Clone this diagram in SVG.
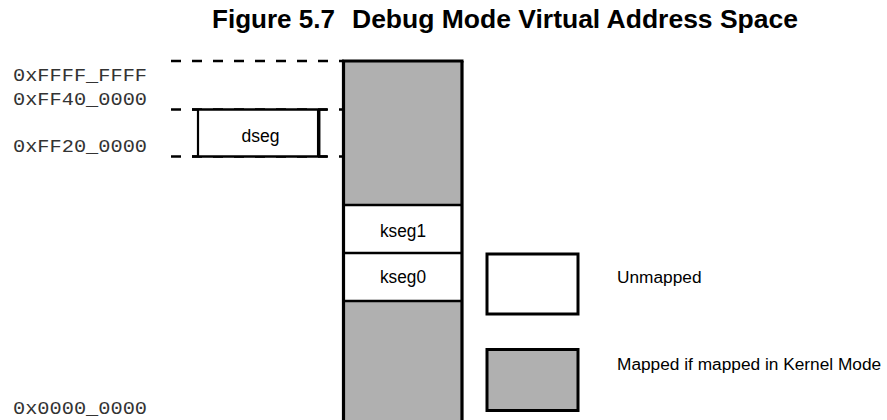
<svg xmlns="http://www.w3.org/2000/svg" width="887" height="420" viewBox="0 0 887 420">
<style>
.title{font-family:"Liberation Sans",Arial,sans-serif;font-weight:bold;font-size:25.5px;fill:#000}
.addr{font-family:"Liberation Mono","Courier New",monospace;font-size:19px;fill:#333}
.seg{font-family:"Liberation Sans",Arial,sans-serif;font-size:18px;fill:#000;text-anchor:middle}
.leg{font-family:"Liberation Sans",Arial,sans-serif;font-size:17.3px;fill:#000}
.dash{stroke:#000;stroke-width:2.5;stroke-dasharray:10 11;fill:none}
.box{stroke:#000;stroke-width:3}
.gray{fill:#b0b0b0}
.white{fill:#fff}
</style>
<rect width="887" height="420" fill="#fff"/>
<text class="title" y="28"><tspan x="212" textLength="123" lengthAdjust="spacingAndGlyphs">Figure 5.7</tspan><tspan x="352" textLength="446" lengthAdjust="spacingAndGlyphs">Debug Mode Virtual Address Space</tspan></text>

<g id="labels">
<text class="addr" x="13" y="81" textLength="134" lengthAdjust="spacingAndGlyphs">0xFFFF_FFFF</text>
<text class="addr" x="13" y="105" textLength="134" lengthAdjust="spacingAndGlyphs">0xFF40_0000</text>
<text class="addr" x="13" y="152" textLength="134" lengthAdjust="spacingAndGlyphs">0xFF20_0000</text>
<text class="addr" x="13" y="414" textLength="134" lengthAdjust="spacingAndGlyphs">0x0000_0000</text>
</g>

<g id="connectors">
<line class="dash" x1="171" y1="61" x2="344" y2="61"/>
<line class="dash" x1="171" y1="109.5" x2="344" y2="109.5"/>
<line class="dash" x1="171" y1="156.5" x2="344" y2="156.5"/>
<line class="dash" x1="171" y1="421.2" x2="344" y2="421.2" stroke-width="3"/>
</g>

<g id="dseg">
<rect x="198" y="109.5" width="120.5" height="47" fill="#fff"/>
<line x1="198" y1="109.5" x2="198" y2="156.5" stroke="#000" stroke-width="2.2"/>
<line x1="318.7" y1="109.5" x2="318.7" y2="156.5" stroke="#000" stroke-width="3.5"/>
<line x1="192" y1="109.5" x2="327" y2="109.5" stroke="#000" stroke-width="2.5"/>
<line x1="192" y1="156.5" x2="327" y2="156.5" stroke="#000" stroke-width="2.5"/>
<text class="seg" x="260.5" y="142" textLength="38" lengthAdjust="spacingAndGlyphs">dseg</text>
</g>

<g id="column">
<rect class="gray" x="343.5" y="61" width="118.5" height="370"/>
<rect class="white" x="343.5" y="205" width="118.5" height="96"/>
<line x1="343.5" y1="61" x2="343.5" y2="425" stroke="#000" stroke-width="3.2"/>
<line x1="462" y1="61" x2="462" y2="425" stroke="#000" stroke-width="3.2"/>
<line x1="342" y1="61" x2="463.5" y2="61" stroke="#000" stroke-width="2.8"/>
<line x1="343.5" y1="205" x2="462" y2="205" stroke="#000" stroke-width="2.6"/>
<line x1="343.5" y1="253" x2="462" y2="253" stroke="#000" stroke-width="2.6"/>
<line x1="343.5" y1="301" x2="462" y2="301" stroke="#000" stroke-width="2.6"/>
</g>
<g id="kseg1"><text class="seg" x="403" y="237" textLength="46" lengthAdjust="spacingAndGlyphs">kseg1</text></g>
<g id="kseg0"><text class="seg" x="403" y="283" textLength="46" lengthAdjust="spacingAndGlyphs">kseg0</text></g>

<g id="legend-unmapped">
<rect class="box white" x="487" y="254" width="91" height="60"/>
<text class="leg" x="617" y="283">Unmapped</text>
</g>
<g id="legend-mapped">
<rect class="box gray" x="487" y="349.5" width="91" height="61"/>
<text class="leg" x="617" y="370">Mapped if mapped in Kernel Mode</text>
</g>
</svg>
